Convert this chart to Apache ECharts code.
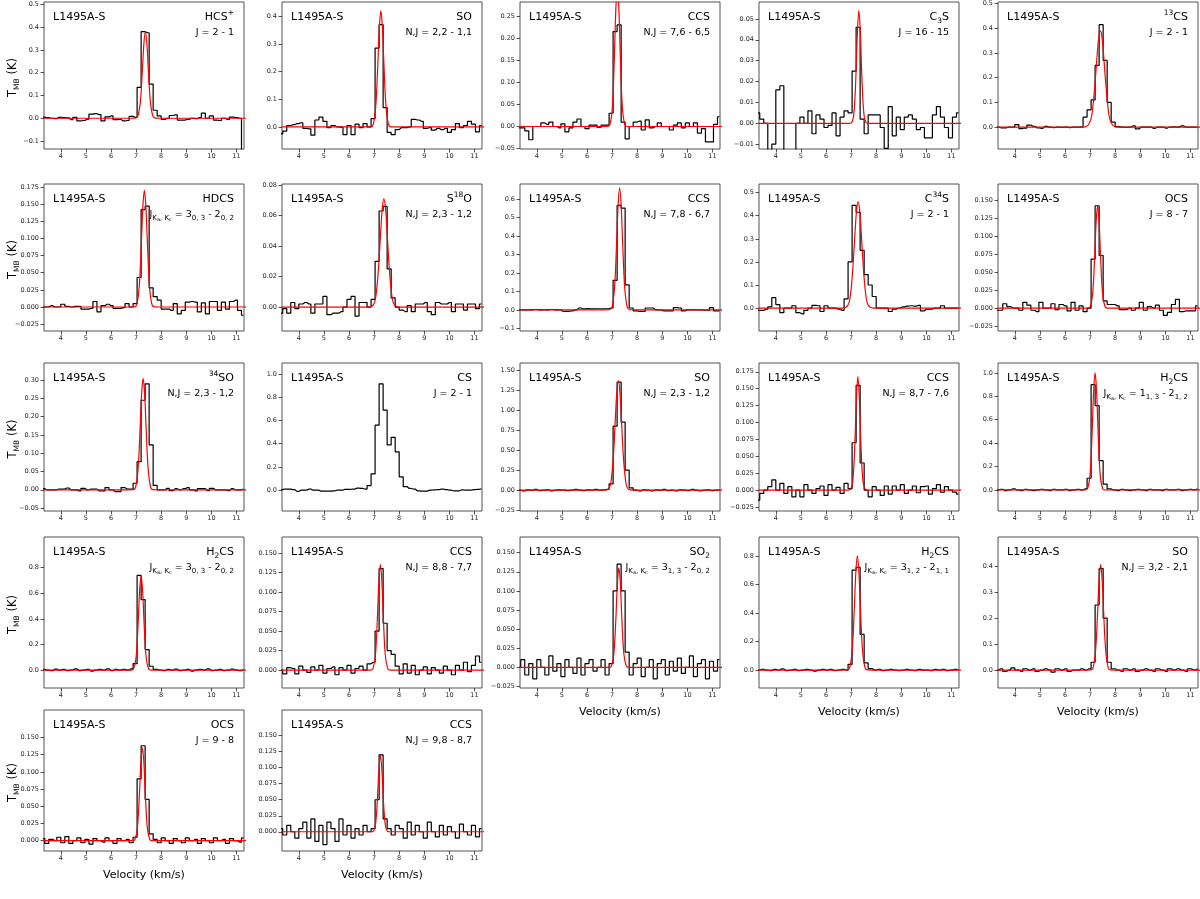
<!DOCTYPE html>
<html>
<head>
<meta charset="utf-8">
<script src="https://cdn.jsdelivr.net/npm/echarts@6/dist/echarts.min.js"></script>
<style>
  html, body { margin: 0; padding: 0; background: #fff; }
  #chart { width: 1200px; height: 899px; }
</style>
</head>
<body>
<div id="chart"></div>
<script>
// channel grid of every spectrum (km/s): v = v0 + dv * i
var v0 = 3.28, dv = 0.16;
var xMin = 3.33, xMax = 11.3;
var xTicks = [4, 5, 6, 7, 8, 9, 10, 11];

// ---- observed spectra, T_MB (K) per channel ----
var tHCSp = [0.005,0.003,0.0,-0.002,0.004,0.003,0.002,-0.006,0.004,-0.012,
  -0.01,-0.004,0.018,0.02,0.016,-0.012,0.006,0.01,-0.006,-0.005,
  -0.012,-0.01,0.008,0.004,0.135,0.38,0.375,0.15,0.035,0.01,
  -0.005,0.0,0.012,0.015,-0.008,-0.008,-0.005,0.0,-0.002,0.003,
  0.022,0.0,0.01,-0.008,-0.01,0.0,-0.005,0.005,0.003,0.0,-0.3];
var tSO22 = [-0.025,-0.015,0.005,0.008,0.012,0.015,-0.005,-0.007,-0.03,0.025,
  0.035,0.02,-0.003,0.005,0.0,-0.002,-0.028,0.005,-0.028,0.01,
  -0.003,0.012,0.0,0.03,0.285,0.37,0.07,-0.02,-0.028,-0.01,
  -0.003,-0.003,0.0,0.027,0.025,0.02,-0.005,-0.003,-0.012,-0.005,
  -0.01,-0.005,-0.02,-0.01,0.012,-0.003,0.005,0.02,0.01,-0.018,0.005];
var tCCS76 = [-0.003,-0.003,-0.01,-0.03,0.0,0.0,0.008,0.005,0.01,0.0,
  -0.003,0.006,-0.012,-0.003,0.01,0.017,0.0,-0.005,0.003,0.003,
  -0.002,0.003,0.003,0.03,0.215,0.23,0.01,-0.028,0.0,0.01,
  0.012,-0.008,0.015,-0.003,0.0,0.008,0.0,0.0,-0.008,0.003,
  0.008,-0.003,0.008,0.0,0.008,-0.015,-0.005,-0.035,-0.035,0.005,0.022];
var tC3S = [0.005,0.002,0.0,-0.025,-0.01,0.016,0.018,-0.03,-0.03,-0.03,
  0.0,0.003,0.0,0.006,-0.005,0.004,0.002,-0.002,-0.001,0.005,
  -0.006,0.003,0.006,0.005,0.025,0.046,0.002,-0.005,0.004,0.004,
  0.004,-0.002,-0.012,0.008,-0.006,0.003,-0.003,0.003,0.004,0.002,
  -0.003,-0.002,-0.007,-0.007,0.004,0.008,0.003,-0.002,-0.007,0.003,0.005];
var t13CS = [0.0,-0.003,-0.003,0.0,0.0,0.01,-0.006,-0.004,0.008,0.003,
  -0.003,-0.005,0.003,0.0,-0.002,0.0,-0.001,0.0,-0.002,0.0,
  0.0,0.0,0.04,0.07,0.11,0.25,0.415,0.27,0.1,0.02,
  0.002,0.0,-0.001,0.0,0.005,-0.007,0.0,0.0,0.0,-0.005,
  0.0,0.0,-0.004,0.0,0.001,0.0,0.005,0.0,0.0,0.0,-0.002];
var tHDCS = [0.0,0.0,0.002,0.0,0.0,0.004,0.001,0.0,0.001,0.001,
  -0.003,-0.003,-0.002,0.008,-0.007,0.002,0.004,0.002,-0.002,-0.002,
  -0.001,0.005,0.0,0.005,0.043,0.142,0.147,0.028,0.015,0.01,
  -0.003,-0.003,-0.005,0.005,-0.01,-0.005,0.007,0.008,0.007,-0.007,
  0.006,-0.01,0.008,0.008,-0.005,0.007,-0.003,0.008,0.01,-0.005,-0.012];
var tS18O = [-0.004,-0.001,-0.004,0.003,-0.001,0.002,0.003,0.002,-0.004,0.002,
  0.002,0.007,-0.005,-0.004,-0.004,-0.003,0.0,0.005,0.007,-0.006,
  0.003,0.003,0.0,0.005,0.03,0.063,0.066,0.025,0.006,0.0,
  -0.002,-0.003,0.001,-0.003,0.002,0.002,0.003,-0.003,-0.005,0.003,
  0.002,0.002,0.003,-0.003,0.002,0.002,-0.002,0.002,0.002,-0.001,0.002];
var tCCS78 = [0.0,0.0,0.0,0.0,0.002,0.0,0.0,0.0,0.002,0.0,
  0.0,-0.008,-0.008,-0.006,0.0,0.01,0.005,0.007,0.005,0.006,
  0.006,0.006,0.006,0.01,0.16,0.565,0.55,0.135,0.01,-0.005,
  -0.008,-0.008,0.01,0.01,0.0,0.0,-0.005,-0.005,-0.005,0.012,
  0.01,-0.005,0.0,0.0,0.0,0.0,-0.002,-0.002,0.012,-0.005,-0.005];
var tC34S = [-0.01,-0.01,-0.005,0.005,0.045,0.015,-0.02,0.0,0.0,0.01,
  -0.02,-0.025,-0.01,0.0,0.012,0.01,-0.015,0.01,0.0,0.0,
  -0.005,-0.01,0.04,0.2,0.445,0.415,0.25,0.145,0.1,0.05,
  0.0,0.0,0.0,-0.015,-0.005,0.0,0.005,0.008,0.01,0.008,
  0.012,-0.012,-0.005,-0.005,0.0,0.0,0.01,0.0,0.0,0.0,0.0];
var tOCS87 = [-0.003,-0.003,0.006,0.002,0.0,0.0,-0.003,0.008,0.004,-0.003,
  -0.005,0.008,0.0,0.0,0.006,-0.002,0.005,0.003,-0.004,0.008,
  -0.003,0.003,-0.005,0.0,0.068,0.142,0.073,0.01,0.005,0.005,
  0.003,-0.002,-0.002,0.0,-0.003,0.0,0.008,-0.003,0.002,0.0,
  0.004,-0.003,-0.01,-0.006,0.005,0.012,-0.005,-0.004,-0.004,-0.004,0.003];
var t34SO = [0.003,0.0,0.0,0.0,0.002,0.002,0.005,0.0,0.0,-0.003,
  0.004,0.0,0.002,0.002,-0.003,-0.003,0.006,0.0,-0.005,-0.005,
  0.006,0.002,0.002,0.018,0.077,0.245,0.29,0.123,0.012,0.0,
  0.0,0.004,-0.002,0.003,0.0,0.003,0.006,0.0,-0.003,0.003,
  0.003,-0.002,0.004,0.0,0.0,0.0,-0.002,0.003,0.0,0.0,0.002];
var tCS = [0.005,0.01,0.01,0.005,-0.01,0.0,0.0,0.01,0.0,0.0,
  -0.008,-0.008,-0.008,-0.005,0.0,0.0,0.008,0.008,0.01,0.018,
  0.015,0.01,0.04,0.14,0.56,0.915,0.69,0.39,0.455,0.33,
  0.115,0.03,0.015,0.01,-0.005,-0.008,-0.008,0.0,0.002,0.005,
  0.01,0.005,0.0,-0.005,-0.005,0.002,0.0,0.0,0.005,0.008,0.012];
var tSO23 = [0.0,-0.01,0.005,0.0,0.01,-0.005,0.0,0.005,-0.01,0.0,
  0.005,0.0,-0.005,0.0,0.01,0.0,-0.005,0.005,0.0,0.01,
  0.0,0.005,0.01,0.08,0.8,1.35,0.85,0.25,0.03,0.0,
  -0.01,0.005,0.0,-0.01,0.005,0.0,0.01,-0.005,0.0,-0.01,
  0.005,0.0,-0.005,0.01,0.0,-0.01,0.0,0.005,-0.005,0.0,0.005];
var tCCS87 = [-0.015,-0.005,0.0,0.005,0.015,0.0,0.01,-0.005,0.005,-0.01,
  0.0,-0.01,0.008,0.0,-0.005,0.002,0.006,-0.008,0.008,0.0,
  0.004,-0.005,0.01,0.002,0.07,0.155,0.04,0.0,-0.01,0.005,
  0.0,-0.008,0.006,-0.006,0.006,0.0,0.008,-0.005,0.0,0.006,
  -0.004,0.005,0.006,-0.006,0.002,0.008,-0.003,0.005,0.0,-0.003,-0.006];
var tH2CS313 = [0.0,0.005,-0.005,0.0,0.01,0.0,-0.005,0.005,0.0,-0.005,
  0.0,0.005,0.0,-0.005,0.005,0.0,0.0,0.005,-0.005,0.0,
  0.005,0.0,0.01,0.1,0.9,0.72,0.25,0.05,0.01,0.0,
  -0.005,0.005,0.0,-0.005,0.0,0.005,0.0,-0.005,0.005,0.0,
  0.0,-0.005,0.005,0.0,0.0,0.005,-0.005,0.0,0.005,0.0,0.01];
var tH2CS303 = [0.005,0.0,-0.005,0.008,0.0,0.005,-0.005,0.0,0.01,-0.005,
  0.0,0.005,-0.008,0.0,0.005,0.0,0.01,-0.005,0.005,0.0,
  0.005,0.0,0.01,0.05,0.74,0.55,0.16,0.03,0.005,0.0,
  -0.005,0.005,0.0,0.008,-0.005,0.0,0.005,-0.008,0.0,0.005,
  0.0,0.01,-0.005,0.0,0.005,-0.005,0.0,0.008,0.0,-0.005,0.005];
var tCCS88 = [0.0,-0.005,0.003,0.002,-0.005,0.005,0.0,-0.003,0.004,0.0,
  0.006,-0.004,0.002,0.004,-0.006,0.003,0.0,0.006,-0.004,0.002,
  0.005,0.0,0.008,0.01,0.05,0.13,0.06,0.025,0.02,0.005,
  -0.005,0.008,-0.004,0.006,-0.006,0.0,0.004,-0.005,0.003,0.0,
  -0.004,0.005,0.0,-0.006,0.006,0.0,0.01,-0.002,0.006,0.018,0.01];
var tSO2 = [0.0,0.01,-0.01,0.005,-0.015,0.01,0.0,-0.01,0.015,-0.005,
  0.005,-0.012,0.01,0.0,-0.008,0.012,-0.01,0.005,0.01,-0.005,
  0.0,0.01,-0.01,0.005,0.1,0.135,0.1,0.02,-0.01,0.005,
  0.012,-0.012,0.0,0.01,-0.015,0.005,0.01,-0.01,0.008,-0.005,
  0.012,-0.008,0.0,0.015,-0.012,0.005,0.01,-0.015,0.008,-0.005,0.01];
var tH2CS312 = [0.0,0.005,0.0,-0.005,0.005,0.0,0.008,-0.005,0.0,0.005,
  -0.005,0.0,0.005,0.0,-0.008,0.0,0.005,0.0,0.005,-0.005,
  0.0,0.005,0.0,0.04,0.7,0.72,0.25,0.05,0.01,0.0,
  0.005,-0.005,0.0,0.005,0.0,-0.005,0.0,0.005,0.0,-0.005,
  0.005,0.0,0.0,-0.005,0.005,0.0,0.005,-0.005,0.0,0.005,0.0];
var tSO32 = [0.0,0.005,-0.005,0.0,0.008,0.0,-0.005,0.005,0.0,0.005,
  -0.005,0.0,0.005,0.0,-0.008,0.005,0.0,0.005,-0.005,0.0,
  0.0,0.005,0.0,0.005,0.03,0.25,0.39,0.2,0.03,0.005,
  0.0,-0.005,0.005,0.0,0.005,-0.005,0.0,0.005,0.0,-0.005,
  0.005,0.0,-0.005,0.005,0.0,0.005,0.0,-0.005,0.005,0.0,0.005];
var tOCS98 = [0.003,-0.004,0.002,0.0,0.005,-0.003,0.006,-0.004,0.0,0.004,
  -0.003,0.002,-0.005,0.003,0.0,-0.002,0.004,0.0,-0.004,0.003,
  0.0,0.002,-0.003,0.005,0.09,0.138,0.06,0.01,0.002,-0.003,
  0.004,0.0,-0.004,0.003,0.0,-0.003,0.004,0.0,0.002,-0.004,
  0.003,0.0,-0.003,0.004,0.0,0.002,-0.004,0.003,0.0,-0.002,0.004];
var tCCS98 = [0.005,-0.005,0.01,0.0,-0.01,0.005,0.015,-0.01,0.02,-0.015,
  0.01,-0.02,0.015,0.005,-0.015,0.02,-0.005,0.01,-0.01,0.005,
  -0.005,0.01,0.0,0.005,0.05,0.12,0.02,0.005,-0.005,0.01,
  0.005,-0.01,0.015,-0.005,0.01,0.0,-0.01,0.015,0.0,-0.008,
  0.01,-0.005,0.008,0.0,-0.01,0.012,0.0,-0.005,0.01,-0.008,0.005];

// ---- Gaussian fits: [v (km/s), T_MB (K)] ----
var fHCSp = [[3.3,0],[6.77,0],[6.97,0.0004],[7.07,0.009],[7.17,0.072],[7.25,0.209],[7.31,0.327],[7.37,0.38],[7.43,0.327],[7.49,0.209],[7.57,0.072],[7.67,0.009],[7.77,0.0004],[7.97,0],[11.4,0]];
var fSO22 = [[3.3,0],[6.67,0],[6.87,0.0004],[6.97,0.01],[7.07,0.08],[7.15,0.231],[7.21,0.361],[7.27,0.42],[7.33,0.361],[7.39,0.231],[7.47,0.08],[7.57,0.01],[7.67,0.0004],[7.87,0],[11.4,0]];
var fCCS76 = [[3.3,0],[6.61,0],[6.81,0],[6.91,0.0035],[7.01,0.043],[7.09,0.156],[7.15,0.267],[7.21,0.32],[7.27,0.267],[7.33,0.156],[7.41,0.043],[7.51,0.0035],[7.61,0],[7.81,0],[11.4,0]];
var fC3S = [[3.3,0],[6.71,0],[6.91,0],[7.01,0.0002],[7.11,0.0046],[7.19,0.0221],[7.25,0.0432],[7.31,0.054],[7.37,0.0432],[7.43,0.0221],[7.51,0.0046],[7.61,0.0002],[7.71,0],[7.91,0],[11.4,0]];
var f13CS = [[3.3,0],[6.5,0],[6.81,0.001],[7.01,0.025],[7.11,0.082],[7.21,0.195],[7.29,0.304],[7.35,0.367],[7.41,0.39],[7.47,0.367],[7.53,0.304],[7.61,0.195],[7.71,0.082],[7.81,0.025],[8.01,0.001],[8.3,0],[11.4,0]];
var fHDCS = [[3.3,0],[6.73,0],[6.93,0.0002],[7.03,0.004],[7.13,0.032],[7.21,0.094],[7.27,0.146],[7.33,0.17],[7.39,0.146],[7.45,0.094],[7.53,0.032],[7.63,0.004],[7.73,0.0002],[7.93,0],[11.4,0]];
var fS18O = [[3.3,0],[6.79,0],[6.99,0.002],[7.09,0.0096],[7.19,0.0292],[7.27,0.0515],[7.33,0.0655],[7.39,0.071],[7.45,0.0655],[7.51,0.0515],[7.59,0.0292],[7.69,0.0096],[7.79,0.002],[7.99,0],[11.4,0]];
var fCCS78 = [[3.3,0],[6.7,0],[6.9,0.0007],[7.0,0.016],[7.1,0.125],[7.18,0.363],[7.24,0.568],[7.3,0.66],[7.36,0.568],[7.42,0.363],[7.5,0.125],[7.6,0.016],[7.7,0.0007],[7.9,0],[11.4,0]];
var fC34S = [[3.3,0],[6.68,0],[6.88,0.013],[6.98,0.062],[7.08,0.189],[7.16,0.334],[7.22,0.425],[7.28,0.46],[7.34,0.425],[7.4,0.334],[7.48,0.189],[7.58,0.062],[7.68,0.013],[7.88,0],[11.4,0]];
var fOCS87 = [[3.3,0],[6.7,0],[6.9,0],[7.0,0.0016],[7.1,0.019],[7.18,0.069],[7.24,0.119],[7.3,0.142],[7.36,0.119],[7.42,0.069],[7.5,0.019],[7.6,0.0016],[7.7,0],[7.9,0],[11.4,0]];
var f34SO = [[3.3,0],[6.68,0],[6.88,0.0003],[6.98,0.007],[7.08,0.058],[7.16,0.168],[7.22,0.262],[7.28,0.305],[7.34,0.262],[7.4,0.168],[7.48,0.058],[7.58,0.007],[7.68,0.0003],[7.88,0],[11.4,0]];
var fSO23 = [[3.3,0],[6.65,0],[6.85,0.012],[6.95,0.096],[7.05,0.419],[7.13,0.895],[7.19,1.232],[7.25,1.37],[7.31,1.232],[7.37,0.895],[7.45,0.419],[7.55,0.096],[7.65,0.012],[7.85,0],[11.4,0]];
var fCCS87 = [[3.3,0],[6.67,0],[6.87,0],[6.97,0.0007],[7.07,0.0143],[7.15,0.0689],[7.21,0.134],[7.27,0.168],[7.33,0.134],[7.39,0.0689],[7.47,0.0143],[7.57,0.0007],[7.67,0],[7.87,0],[11.4,0]];
var fH2CS313 = [[3.3,0],[6.6,0],[6.8,0],[6.9,0.011],[7.0,0.135],[7.08,0.487],[7.14,0.835],[7.2,1.0],[7.26,0.835],[7.32,0.487],[7.4,0.135],[7.5,0.011],[7.6,0],[7.8,0],[11.4,0]];
var fH2CS303 = [[3.3,0],[6.6,0],[6.8,0],[6.9,0.008],[7.0,0.1],[7.08,0.36],[7.14,0.618],[7.2,0.74],[7.26,0.618],[7.32,0.36],[7.4,0.1],[7.5,0.008],[7.6,0],[7.8,0],[11.4,0]];
var fCCS88 = [[3.3,0],[6.65,0],[6.85,0],[6.95,0.0015],[7.05,0.018],[7.13,0.066],[7.19,0.113],[7.25,0.135],[7.31,0.113],[7.37,0.066],[7.45,0.018],[7.55,0.0015],[7.65,0],[7.85,0],[11.4,0]];
var fSO2 = [[3.3,0],[6.67,0],[6.87,0],[6.97,0.0014],[7.07,0.0176],[7.15,0.063],[7.21,0.109],[7.27,0.13],[7.33,0.109],[7.39,0.063],[7.47,0.0176],[7.57,0.0014],[7.67,0],[7.87,0],[11.4,0]];
var fH2CS312 = [[3.3,0],[6.65,0],[6.85,0.0008],[6.95,0.019],[7.05,0.152],[7.13,0.44],[7.19,0.688],[7.25,0.8],[7.31,0.688],[7.37,0.44],[7.45,0.152],[7.55,0.019],[7.65,0.0008],[7.85,0],[11.4,0]];
var fSO32 = [[3.3,0],[6.82,0],[7.02,0.0004],[7.12,0.0097],[7.22,0.077],[7.3,0.223],[7.36,0.348],[7.42,0.405],[7.48,0.348],[7.54,0.223],[7.62,0.077],[7.72,0.0097],[7.82,0.0004],[8.02,0],[11.4,0]];
var fOCS98 = [[3.3,0],[6.65,0],[6.85,0],[6.95,0.0015],[7.05,0.018],[7.13,0.066],[7.19,0.113],[7.25,0.135],[7.31,0.113],[7.37,0.066],[7.45,0.018],[7.55,0.0015],[7.65,0],[7.85,0],[11.4,0]];
var fCCS98 = [[3.3,0],[6.65,0],[6.85,0],[6.95,0.0005],[7.05,0.0102],[7.13,0.0492],[7.19,0.096],[7.25,0.12],[7.31,0.096],[7.37,0.0492],[7.45,0.0102],[7.55,0.0005],[7.65,0],[7.85,0],[11.4,0]];

// ---- per panel: spectrum, fit, y limits, y ticks, decimals, labels ----
var spectra = [tHCSp, tSO22, tCCS76, tC3S, t13CS, tHDCS, tS18O, tCCS78, tC34S, tOCS87,
  t34SO, tCS, tSO23, tCCS87, tH2CS313, tH2CS303, tCCS88, tSO2, tH2CS312, tSO32, tOCS98, tCCS98];
var fits = [fHCSp, fSO22, fCCS76, fC3S, f13CS, fHDCS, fS18O, fCCS78, fC34S, fOCS87,
  f34SO, null, fSO23, fCCS87, fH2CS313, fH2CS303, fCCS88, fSO2, fH2CS312, fSO32, fOCS98, fCCS98];
var yLims = [[-0.135,0.51],[-0.08,0.452],[-0.051,0.282],[-0.0123,0.0581],[-0.089,0.507],
  [-0.035,0.1794],[-0.0157,0.0807],[-0.1144,0.681],[-0.0994,0.5375],[-0.0318,0.1722],
  [-0.058,0.347],[-0.179,1.095],[-0.26,1.59],[-0.031,0.188],[-0.18,1.085],
  [-0.14,1.04],[-0.023,0.1705],[-0.027,0.1705],[-0.126,0.933],[-0.069,0.5115],
  [-0.015,0.19],[-0.03,0.19]];
var yTicks = [
  [-0.1,0,0.1,0.2,0.3,0.4,0.5], [0,0.1,0.2,0.3,0.4], [-0.05,0,0.05,0.1,0.15,0.2,0.25],
  [-0.01,0,0.01,0.02,0.03,0.04,0.05], [0,0.1,0.2,0.3,0.4,0.5],
  [-0.025,0,0.025,0.05,0.075,0.1,0.125,0.15,0.175], [0,0.02,0.04,0.06,0.08],
  [-0.1,0,0.1,0.2,0.3,0.4,0.5,0.6], [0,0.1,0.2,0.3,0.4,0.5], [-0.025,0,0.025,0.05,0.075,0.1,0.125,0.15],
  [-0.05,0,0.05,0.1,0.15,0.2,0.25,0.3], [0,0.2,0.4,0.6,0.8,1.0], [-0.25,0,0.25,0.5,0.75,1.0,1.25,1.5],
  [-0.025,0,0.025,0.05,0.075,0.1,0.125,0.15,0.175], [0,0.2,0.4,0.6,0.8,1.0],
  [0,0.2,0.4,0.6,0.8], [0,0.025,0.05,0.075,0.1,0.125,0.15], [-0.025,0,0.025,0.05,0.075,0.1,0.125,0.15],
  [0,0.2,0.4,0.6,0.8], [0,0.1,0.2,0.3,0.4],
  [0,0.025,0.05,0.075,0.1,0.125,0.15], [0,0.025,0.05,0.075,0.1,0.125,0.15]];
var yDec = [1,1,2,2,1, 3,2,1,1,3, 2,1,2,3,1, 1,3,3,1,1, 3,3];
var molecule = ['{m|HCS}{p|+}','{m|SO}','{m|CCS}','{m|C}{b|3}{m|S}','{p|13}{m|CS}',
  '{m|HDCS}','{m|S}{p|18}{m|O}','{m|CCS}','{m|C}{p|34}{m|S}','{m|OCS}',
  '{p|34}{m|SO}','{m|CS}','{m|SO}','{m|CCS}','{m|H}{b|2}{m|CS}',
  '{m|H}{b|2}{m|CS}','{m|CCS}','{m|SO}{b|2}','{m|H}{b|2}{m|CS}','{m|SO}',
  '{m|OCS}','{m|CCS}'];
var JK = '{t|J}{s|K}{ss|a}{s|, K}{ss|c}{t| = }';
var transition = ['{t|J = 2 - 1}','{t|N,J = 2,2 - 1,1}','{t|N,J = 7,6 - 6,5}','{t|J = 16 - 15}','{t|J = 2 - 1}',
  JK + '{t|3}{s|0, 3}{t| - 2}{s|0, 2}','{t|N,J = 2,3 - 1,2}','{t|N,J = 7,8 - 6,7}','{t|J = 2 - 1}','{t|J = 8 - 7}',
  '{t|N,J = 2,3 - 1,2}','{t|J = 2 - 1}','{t|N,J = 2,3 - 1,2}','{t|N,J = 8,7 - 7,6}',JK + '{t|1}{s|1, 3}{t| - 2}{s|1, 2}',
  JK + '{t|3}{s|0, 3}{t| - 2}{s|0, 2}','{t|N,J = 8,8 - 7,7}',JK + '{t|3}{s|1, 3}{t| - 2}{s|0, 2}',JK + '{t|3}{s|1, 2}{t| - 2}{s|1, 1}','{t|N,J = 3,2 - 2,1}',
  '{t|J = 9 - 8}','{t|N,J = 9,8 - 8,7}'];
var source = 'L1495A-S';

// ---- layout (px) ----
var colLeft = [44, 282, 520, 759, 998];
var panelW = 200;
var rowTop = [2, 184, 363, 537, 710];
var rowH = [147, 147, 148, 151, 141];
var velocityPanels = [17, 18, 19, 20, 21];

var FONT = 'DejaVu Sans';
var INK = '#262626';

function channels(t) {
  return t.map(function (y, i) { return [+(v0 + dv * i).toFixed(2), y]; });
}
function fmt(d) {
  return function (v) { return v.toFixed(d).replace('-', '\u2212'); };
}

var grids = [], xAxes = [], yAxes = [], series = [], graphics = [];
var richMol = {
  m: { fontSize: 11, fontFamily: FONT, fill: '#000', lineHeight: 16 },
  p: { fontSize: 7.5, fontFamily: FONT, fill: '#000', lineHeight: 9, verticalAlign: 'top' },
  b: { fontSize: 7.5, fontFamily: FONT, fill: '#000', lineHeight: 9, verticalAlign: 'bottom' }
};
var richTr = {
  t: { fontSize: 9.5, fontFamily: FONT, fill: '#000', lineHeight: 14 },
  s: { fontSize: 7, fontFamily: FONT, fill: '#000', lineHeight: 8, verticalAlign: 'bottom' },
  ss: { fontSize: 5, fontFamily: FONT, fill: '#000', lineHeight: 4, verticalAlign: 'bottom' }
};

spectra.forEach(function (t, k) {
  var r = Math.floor(k / 5), c = k % 5;
  var L = colLeft[c], T = rowTop[r], H = rowH[r];
  grids.push({ left: L, top: T, width: panelW, height: H, show: true,
    borderColor: INK, borderWidth: 0.8, backgroundColor: 'transparent' });
  xAxes.push({ type: 'value', gridIndex: k, min: xMin, max: xMax, position: 'bottom',
    axisLine: { show: false, onZero: false }, splitLine: { show: false },
    axisTick: { customValues: xTicks, length: 3.5, lineStyle: { color: INK, width: 0.8 } },
    axisLabel: { customValues: xTicks, fontSize: 6.5, color: INK, margin: 4, fontFamily: FONT } });
  yAxes.push({ type: 'value', gridIndex: k, min: yLims[k][0], max: yLims[k][1], position: 'left',
    axisLine: { show: false, onZero: false }, splitLine: { show: false },
    axisTick: { customValues: yTicks[k], length: 3.5, lineStyle: { color: INK, width: 0.8 } },
    axisLabel: { customValues: yTicks[k], fontSize: 6.5, color: INK, margin: 5, fontFamily: FONT,
      formatter: fmt(yDec[k]) } });
  series.push({ type: 'line', xAxisIndex: k, yAxisIndex: k, step: 'middle', data: channels(t),
    symbol: 'none', silent: true, z: 2, lineStyle: { color: '#000', width: 1.2 } });
  if (fits[k]) {
    series.push({ type: 'line', xAxisIndex: k, yAxisIndex: k, smooth: 0.35, data: fits[k],
      symbol: 'none', silent: true, z: 3, lineStyle: { color: '#ff0000', width: 1.2 } });
  }
  graphics.push({ type: 'text', x: L + 9, y: T + 15, z: 10,
    style: { text: source, fontSize: 11, fontFamily: FONT, fill: '#000', verticalAlign: 'middle', align: 'left' } });
  graphics.push({ type: 'text', x: L + panelW - 10, y: T + 15, z: 10,
    style: { text: molecule[k], rich: richMol, align: 'right', verticalAlign: 'middle' } });
  graphics.push({ type: 'text', x: L + panelW - 10, y: T + 31, z: 10,
    style: { text: transition[k], rich: richTr, align: 'right', verticalAlign: 'middle' } });
  if (c === 0) {
    graphics.push({ type: 'text', x: 13, y: T + H / 2 + 2, rotation: Math.PI / 2, z: 10,
      style: { text: '{a|T}{s|MB}{a| (K)}', align: 'center', verticalAlign: 'middle',
        rich: { a: { fontSize: 11.5, fontFamily: FONT, fill: '#000', lineHeight: 16 },
                s: { fontSize: 7.5, fontFamily: FONT, fill: '#000', lineHeight: 9, verticalAlign: 'bottom' } } } });
  }
  if (velocityPanels.indexOf(k) >= 0) {
    graphics.push({ type: 'text', x: L + panelW / 2, y: T + H + 24, z: 10,
      style: { text: 'Velocity (km/s)', fontSize: 11, fontFamily: FONT, fill: '#000', align: 'center', verticalAlign: 'middle' } });
  }
});

var chart = echarts.init(document.getElementById('chart'));
chart.setOption({
  backgroundColor: '#fff',
  animation: false,
  grid: grids,
  xAxis: xAxes,
  yAxis: yAxes,
  series: series,
  graphic: graphics
});
</script>
</body>
</html>
